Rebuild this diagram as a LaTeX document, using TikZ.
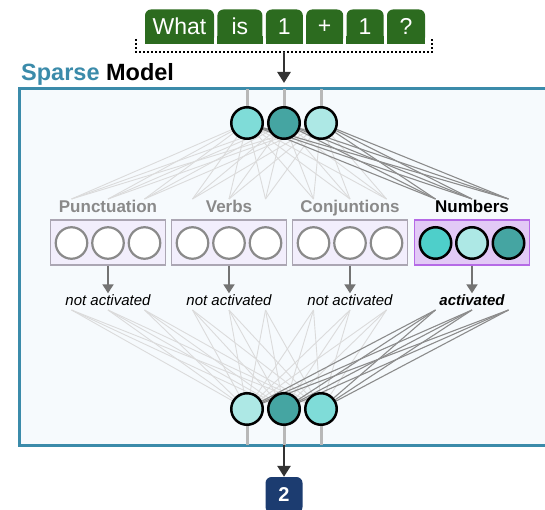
\documentclass[tikz,border=0pt]{standalone}
\usepackage{fontspec}
\setmainfont{Liberation Sans}
\usetikzlibrary{positioning,arrows.meta,backgrounds}

\definecolor{frameblue}{HTML}{3B8BAA}
\definecolor{framefill}{HTML}{F6FAFD}
\definecolor{tokgreen}{HTML}{2C6B1F}
\definecolor{outblue}{HTML}{1C3C70}
\definecolor{cyanA}{HTML}{7FDCD8}
\definecolor{cyanB}{HTML}{45A5A2}
\definecolor{cyanC}{HTML}{ADE8E5}
\definecolor{cyanD}{HTML}{4ECFCA}
\definecolor{boxfill}{HTML}{F2EEFC}
\definecolor{boxline}{HTML}{ABA6B3}
\definecolor{numfill}{HTML}{E2C9F6}
\definecolor{numline}{HTML}{B56AE6}
\definecolor{idlegray}{HTML}{8A8A8A}

\tikzset{
    token/.style={fill=tokgreen, text=white, rounded corners=6pt, minimum height=34pt, inner sep=0pt, font=\fontsize{23}{23}\selectfont}, % words of the question
    neuron/.style={circle, draw=black, line width=2.5pt, minimum size=31.5pt, inner sep=0pt}, % active unit
    idle/.style={circle, draw=idlegray, line width=2.2pt, fill=white, minimum size=31.5pt, inner sep=0pt}, % sleeping unit
    groupbox/.style={draw=boxline, fill=boxfill, line width=1.3pt, minimum width=115pt, minimum height=45pt},
    grouptitle/.style={anchor=base, text=idlegray, font=\bfseries\fontsize{17}{17}\selectfont},
    note/.style={inner sep=1pt, font=\itshape\fontsize{15}{15}\selectfont},
    idlewire/.style={draw=black!14, line width=0.9pt},
    livewire/.style={draw=black!45, line width=1.1pt},
    stub/.style={draw=black!28, line width=3pt},
    bigarrow/.style={draw=black!80, line width=2.6pt, -{Triangle[width=13pt,length=11pt]}},
    smallarrow/.style={draw=black!55, line width=2pt, -{Triangle[width=11pt,length=9pt]}},
    bracket/.style={draw=black, line width=1.3pt, dash pattern=on 2pt off 2pt},
    outbox/.style={fill=outblue, text=white, rounded corners=6pt, minimum width=37pt, minimum height=36pt, font=\bfseries\fontsize{20}{20}\selectfont},
}

\begin{document}
\begin{tikzpicture}[x=1pt,y=-1pt]
  \useasboundingbox (0,0) rectangle (545,510);

  % the question
  \node[token, minimum width=69pt] (w1) at (179.5,26.5) {What};
  \node[token, minimum width=45pt, right=3pt of w1] (w2) {is};
  \node[token, minimum width=37pt, right=3pt of w2] (w3) {1};
  \node[token, minimum width=37pt, right=3pt of w3] (w4) {+};
  \node[token, minimum width=37pt, right=3pt of w4] (w5) {1};
  \node[token, minimum width=38pt, right=3pt of w5] (w6) {?};
  \foreach \w in {w1,w2,w3,w4,w5,w6}
    \fill[tokgreen] ([yshift=8pt]\w.south west) rectangle (\w.south east); % square bottoms

  \coordinate (brL) at (136,52);
  \coordinate (brM) at (284,52);
  \coordinate (brR) at (432,52);
  \coordinate (inTip) at (284,83);
  \draw[bracket] (136,39) -- (brL) -- (brR) -- (432,39);
  \draw[bigarrow] (brM) -- (inTip);

  \node[anchor=base west, inner sep=0pt, font=\bfseries\fontsize{23.5}{23.5}\selectfont] (title) at (21,81)
    {\textcolor{frameblue}{Sparse} Model};

  % model frame (runs off the right edge)
  \coordinate (frameNW) at (19,89);
  \coordinate (frameSW) at (19,445);

  % input and output units
  \node[neuron, fill=cyanA] (t1) at (247,123) {};
  \node[neuron, fill=cyanB] (t2) at (284,123) {};
  \node[neuron, fill=cyanC] (t3) at (321,123) {};
  \node[neuron, fill=cyanC] (b1) at (247,409) {};
  \node[neuron, fill=cyanB] (b2) at (284,409) {};
  \node[neuron, fill=cyanA] (b3) at (321,409) {};

  % experts
  \foreach \g/\cx/\lab in {punc/108/Punctuation, verb/229/Verbs, conj/350/Conjuntions} {
    \node[grouptitle] (\g-title) at (\cx,213) {\lab};
    \node[groupbox] (\g-box) at (\cx,242.5) {};
    \foreach \k in {1,2,3} {
      \node[idle] (\g-\k) at ({\cx+(\k-2)*36.5},243) {};
      \coordinate (\g-\k-in) at ({\cx+(\k-2)*36.5},199);
      \coordinate (\g-\k-out) at ({\cx+(\k-2)*36.5},310);
    }
    \node[note] (\g-note) at (\cx,300) {not activated};
    \draw[smallarrow] (\g-box) -- (\g-note);
  }

  \node[grouptitle, text=black] (num-title) at (472,213) {Numbers};
  \node[groupbox, draw=numline, fill=numfill] (num-box) at (472,242.5) {};
  \node[neuron, fill=cyanD] (num-1) at (435.5,243) {};
  \node[neuron, fill=cyanC] (num-2) at (472,243) {};
  \node[neuron, fill=cyanB] (num-3) at (508.5,243) {};
  \foreach \k in {1,2,3} {
    \coordinate (num-\k-in) at ({472+(\k-2)*36.5},199);
    \coordinate (num-\k-out) at ({472+(\k-2)*36.5},310);
  }
  \node[note, font=\bfseries\itshape\fontsize{15}{15}\selectfont] (num-note) at (472,300) {activated};
  \draw[smallarrow] (num-box) -- (num-note);

  % wiring, behind everything
  \begin{scope}[on background layer]
    \draw[frameblue, line width=3pt, fill=framefill] (frameNW) rectangle (590,445);
    \foreach \n in {1,2,3} {
      \draw[stub] (t\n.center) -- (t\n |- frameNW);
      \draw[stub] (b\n.center) -- (b\n |- frameSW);
    }
    \foreach \g in {punc,verb,conj}
      \foreach \k in {1,2,3}
        \foreach \n in {1,2,3} {
          \draw[idlewire] (t\n) -- (\g-\k-in);
          \draw[idlewire] (\g-\k-out) -- (b\n);
        }
    \foreach \k in {1,2,3}
      \foreach \n in {1,2,3} {
        \draw[livewire] (t\n) -- (num-\k-in);
        \draw[livewire] (num-\k-out) -- (b\n);
      }
  \end{scope}

  % answer
  \node[outbox] (out) at (284,495) {2};
  \draw[bigarrow] (b2 |- frameSW) -- (out);
\end{tikzpicture}
\end{document}
